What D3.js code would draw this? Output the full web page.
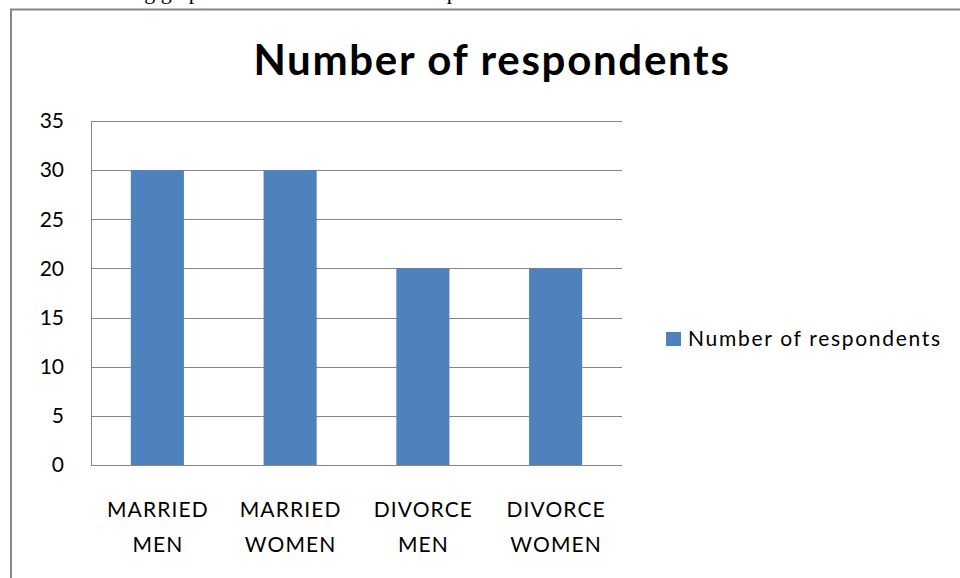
<!DOCTYPE html>
<html>
<head>
<meta charset="utf-8">
<script src="https://d3js.org/d3.v7.min.js"></script>
<style>
  html, body { margin: 0; padding: 0; background: #fff; }
  svg { display: block; }
</style>
</head>
<body>
<div id="chart"></div>
<script>
// chart data
const categories = [["MARRIED", "MEN"], ["MARRIED", "WOMEN"], ["DIVORCE", "MEN"], ["DIVORCE", "WOMEN"]];
const respondents = [30, 30, 20, 20];
const yTicks = [0, 5, 10, 15, 20, 25, 30, 35];
const seriesName = "Number of respondents";
const chartTitle = "Number of respondents";
const captionText = "The following graph shows the status of the respondents";

const width = 960, height = 578;
const margin = { top: 121, right: 338, bottom: 113, left: 91 };
const font = "Lato, 'Open Sans', sans-serif";

const svg = d3.select("#chart")
    .append("svg")
    .attr("width", width)
    .attr("height", height);

// line of text from the page above the figure, cut off by the top edge
svg.append("text")
    .attr("x", 30)
    .attr("y", -1)
    .style("font-family", "'Liberation Serif', serif")
    .style("font-size", "22px")
    .attr("fill", "#000")
    .text(captionText);

// frame of the figure (only left and top edges are visible)
svg.append("path")
    .attr("d", `M11,${height} V9.5 H${width}`)
    .attr("fill", "none")
    .attr("stroke", "#858585")
    .attr("stroke-width", 2);

// title
svg.append("text")
    .attr("x", 492)
    .attr("y", 75)
    .attr("text-anchor", "middle")
    .style("font-family", font)
    .style("font-weight", "bold")
    .style("font-size", "42px")
    .style("letter-spacing", "1.7px")
    .attr("fill", "#000")
    .text(chartTitle);

// scales
let x = d3.scaleBand()
    .domain(d3.range(categories.length))
    .range([margin.left, width - margin.right])
    .paddingInner(0.6)
    .paddingOuter(0.3);

let y = d3.scaleLinear()
    .domain([0, 35])
    .range([height - margin.bottom, margin.top]);

// horizontal gridlines
svg.append("g")
    .selectAll("line")
    .data(yTicks)
    .enter()
    .append("line")
    .attr("x1", margin.left)
    .attr("x2", width - margin.right)
    .attr("y1", d => Math.round(y(d)) + 0.5)
    .attr("y2", d => Math.round(y(d)) + 0.5)
    .attr("stroke", "#868686")
    .attr("stroke-width", 1);

// y axis (labels only, no tick marks)
const yAxis = svg.append("g")
    .attr("transform", `translate(${margin.left}, 0)`)
    .call(d3.axisLeft(y).tickValues(yTicks).tickSize(0).tickPadding(27));
yAxis.select(".domain").remove();
yAxis.selectAll("text")
    .style("font-family", font)
    .style("font-size", "21px")
    .attr("fill", "#000");

// left axis line
svg.append("line")
    .attr("x1", margin.left + 0.5)
    .attr("x2", margin.left + 0.5)
    .attr("y1", y(35))
    .attr("y2", y(0))
    .attr("stroke", "#868686");

// bars
svg.append("g")
    .selectAll("rect")
    .data(respondents)
    .enter()
    .append("rect")
    .attr("x", (d, i) => x(i))
    .attr("y", d => y(d))
    .attr("width", x.bandwidth())
    .attr("height", d => y(0) - y(d))
    .attr("fill", "#4F81BD");

// category labels, two lines each
const catLabels = svg.append("g")
    .selectAll("text")
    .data(categories)
    .enter()
    .append("text")
    .attr("text-anchor", "middle")
    .style("font-family", font)
    .style("font-size", "21px")
    .style("letter-spacing", "1.1px")
    .attr("fill", "#000");
catLabels.each(function (d, i) {
    d3.select(this).selectAll("tspan")
        .data(d)
        .enter()
        .append("tspan")
        .attr("x", x(i) + x.bandwidth() / 2 + 0.5)
        .attr("y", (t, j) => 517 + j * 35)
        .text(t => t);
});

// legend
const legend = svg.append("g").attr("transform", "translate(666, 332)");
legend.append("rect")
    .attr("width", 15)
    .attr("height", 14)
    .attr("fill", "#4F81BD");
legend.append("text")
    .attr("x", 22)
    .attr("y", 14)
    .style("font-family", font)
    .style("font-size", "21px")
    .style("letter-spacing", "1.7px")
    .attr("fill", "#000")
    .text(seriesName);
</script>
</body>
</html>
